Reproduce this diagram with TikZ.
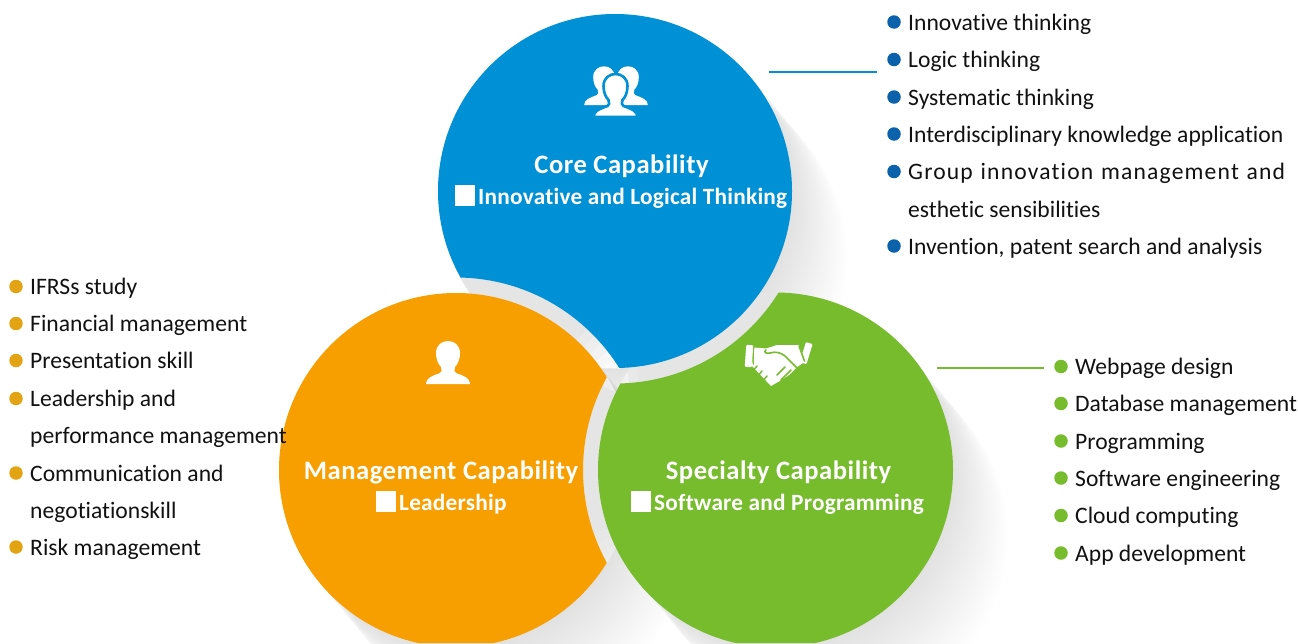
\documentclass[tikz,border=0pt]{standalone}
\usepackage{fontspec}
\usetikzlibrary{calc}
\setmainfont{Carlito}
\newfontfamily\listfont[Ligatures=NoCommon,RawFeature={-liga;-clig}]{Carlito}
\newfontfamily\widefont[Ligatures=NoCommon,RawFeature={-liga;-clig},LetterSpace=5]{Carlito}
\newfontfamily\headfont[Ligatures=NoCommon,RawFeature={-liga;-clig},LetterSpace=2]{Carlito}
\newfontfamily\subfont[Ligatures=NoCommon,RawFeature={-liga;-clig},LetterSpace=1]{Carlito}
\definecolor{coreblue}{HTML}{0090D5}
\definecolor{mgmtorange}{HTML}{F79E00}
\definecolor{specgreen}{HTML}{76BC2D}
\definecolor{dotblue}{HTML}{0B62AA}
\definecolor{dotorange}{HTML}{E3A414}
\definecolor{dotgreen}{HTML}{76BC2D}
\definecolor{itemtext}{HTML}{111111}
\tikzset{
  x=1pt,y=-1pt,
  dotmark/.style={circle,inner sep=0pt,minimum size=13.5pt},
  itemlabel/.style={anchor=base west,inner sep=0pt,text=itemtext,font=\listfont\fontsize{23.6}{24}\selectfont},
  headlabel/.style={anchor=base,inner sep=0pt,text=white,font=\headfont\bfseries\fontsize{26.6}{27}\selectfont},
  sublabel/.style={anchor=base west,inner sep=0pt,text=white,font=\subfont\bfseries\fontsize{23.3}{24}\selectfont},
  subsquare/.style={fill=white,inner sep=0pt,minimum width=20pt,minimum height=21pt,anchor=north west},
  leader/.style={line width=1.3pt},
  person/.pic={
    \path[pic actions] (-22,0) .. controls (-22,-6) and (-16,-8) .. (-8,-11)
      .. controls (-6,-12) and (-6,-14) .. (-7,-17)
      .. controls (-10,-20) and (-12,-25) .. (-12,-31)
      .. controls (-12,-39) and (-6,-43) .. (0,-43)
      .. controls (6,-43) and (12,-39) .. (12,-31)
      .. controls (12,-25) and (10,-20) .. (7,-17)
      .. controls (6,-14) and (6,-12) .. (8,-11)
      .. controls (16,-8) and (22,-6) .. (22,0) -- cycle;
  }
}
\newcommand{\listitem}[6]{%
  \node[dotmark,fill=#5] (#1dot) at (#2,#3) {};
  \node[itemlabel,#6] (#1) at (#2+14,#3+8) {#4};}
\begin{document}
\begin{tikzpicture}
\useasboundingbox (0,0) rectangle (1298,643);
\clip (0,0) rectangle (1298,643);
\coordinate (blueC) at (615,191);
\coordinate (orangeC) at (456,470);
\coordinate (greenC) at (775.5,470);
% soft shadows
\foreach \c in {blueC,orangeC,greenC}{
  \foreach \t in {3,6,...,87}{
    \fill[black,opacity=0.0036] ($(\c)+(\t*0.64,\t*0.77)$) circle[radius=177pt];
  }
}
% bands between the circles
\begin{scope}
  \clip (blueC) circle[radius=177.5pt];
  \foreach \a in {-92,-89,...,-29}{
    \pgfmathsetmacro\g{max(0,10*min(1,(-32-\a)/18))}
    \fill[black!\g!white,draw=black!\g!white,line width=.3pt,shift={(orangeC)}]
      (\a:176) -- (\a:193) -- (\a+3:193) -- (\a+3:176) -- cycle;
  }
\end{scope}
\begin{scope}
  \clip (orangeC) circle[radius=177.5pt];
  \foreach \a in {125,128,...,209}{
    \pgfmathsetmacro\g{max(0,10*min(1,min((210-\a)/6,(\a-125)/35)))}
    \fill[black!\g!white,draw=black!\g!white,line width=.3pt,shift={(greenC)}]
      (\a:176) -- (\a:193) -- (\a+3:193) -- (\a+3:176) -- cycle;
  }
\end{scope}
\begin{scope}
  \clip (greenC) circle[radius=177.5pt];
  \foreach \a in {20,23,...,89}{
    \pgfmathsetmacro\g{max(0,10*min(1,(90-\a)/8))}
    \fill[black!\g!white,draw=black!\g!white,line width=.3pt,shift={(blueC)}]
      (\a:176) -- (\a:193) -- (\a+3:193) -- (\a+3:176) -- cycle;
  }
\end{scope}
% the three discs, each cut by the ring of the next
\begin{scope}[even odd rule]
  \clip (0,0) rectangle (1298,643) (orangeC) circle[radius=192.5pt];
  \fill[coreblue] (blueC) circle[radius=177pt];
\end{scope}
\begin{scope}[even odd rule]
  \clip (0,0) rectangle (1298,643) (greenC) circle[radius=192.5pt];
  \fill[mgmtorange] (orangeC) circle[radius=177pt];
\end{scope}
\begin{scope}[even odd rule]
  \clip (0,0) rectangle (1298,643) (blueC) circle[radius=192.5pt];
  \fill[specgreen] (greenC) circle[radius=177.5pt];
\end{scope}
% icons
\pic[fill=white,scale=.9] at (604,105) {person};
\pic[fill=white,scale=.9] at (628,105) {person};
\pic[fill=white,draw=coreblue,line width=2.6pt] at (615.5,117) {person};
\fill[coreblue] (590,117.5) rectangle (642,125);
\pic[fill=white] at (448,384) {person};
% handshake
\begin{scope}[line join=round,line cap=round]
  \fill[white,rotate around={-4:(749,356)},rounded corners=1pt] (745.5,345) rectangle (752.5,367);
  \fill[white,rotate around={-17:(806,352)},rounded corners=1pt] (803,342.5) rectangle (810,363.5);
  \fill[white] (754.5,347.5) -- (766,348.5) -- (777,345) -- (799,345) -- (806,361)
     -- (797,367) -- (789,375) -- (778,382) -- (771,386) -- (752,366) -- cycle;
  \draw[specgreen,line width=1.6pt] (766,350) .. controls (763,352) and (766,354) .. (770,353)
     .. controls (776,351) and (781,353) .. (785,356) -- (797,368);
  \draw[specgreen,line width=1.6pt] (753.5,349) -- (753.5,364);
  \draw[specgreen,line width=1.6pt] (799,346) -- (804.5,361);
  \draw[specgreen,line width=1.5pt] (757,366) -- (752,372);
  \draw[specgreen,line width=1.5pt] (762,371) -- (757,377);
  \draw[specgreen,line width=1.5pt] (767,376) -- (762,382);
  \draw[specgreen,line width=1.5pt] (785,367) -- (777,375);
  \draw[specgreen,line width=1.5pt] (791,370) -- (781,380);
\end{scope}
% disc labels
\node[headlabel] (corehead) at (621.5,173) {Core Capability};
\node[subsquare] (coresq) at (455,185) {};
\node[sublabel] (coresub) at (478,204) {Innovative and Logical Thinking};
\node[headlabel] (mgmthead) at (441,479) {Management Capability};
\node[subsquare] (mgmtsq) at (376,491) {};
\node[sublabel] (mgmtsub) at (399,510) {Leadership};
\node[headlabel] (spechead) at (778.5,479) {Specialty Capability};
\node[subsquare] (specsq) at (631,491) {};
\node[sublabel] (specsub) at (654,510) {Software and Programming};
% lists
\listitem{a}{894}{22}{Innovative thinking}{dotblue}{}
\listitem{b}{894}{59.5}{Logic thinking}{dotblue}{}
\listitem{c}{894}{97}{Systematic thinking}{dotblue}{}
\listitem{d}{894}{134}{Interdisciplinary knowledge application}{dotblue}{}
\listitem{e}{894}{171.5}{\widefont\makebox[377pt][s]{Group\hfil innovation\hfil management\hfil and}}{dotblue}{}
\node[itemlabel] (e2) at (908,217) {esthetic sensibilities};
\listitem{f}{894}{246}{Invention, patent search and analysis}{dotblue}{}
\listitem{g}{16}{286.5}{IFRSs study}{dotorange}{}
\listitem{h}{16}{323.5}{Financial management}{dotorange}{}
\listitem{i}{16}{360.5}{Presentation skill}{dotorange}{}
\listitem{j}{16}{398.5}{Leadership and}{dotorange}{}
\node[itemlabel] (j2) at (30,443.5) {performance management};
\listitem{k}{16}{473}{Communication and}{dotorange}{}
\node[itemlabel] (k2) at (30,518) {negotiationskill};
\listitem{l}{16}{547}{Risk management}{dotorange}{}
\listitem{m}{1061}{366.5}{Webpage design}{dotgreen}{}
\listitem{n}{1061}{403.5}{Database management}{dotgreen}{}
\listitem{o}{1061}{441}{Programming}{dotgreen}{}
\listitem{p}{1061}{478}{Software engineering}{dotgreen}{}
\listitem{q}{1061}{515.5}{Cloud computing}{dotgreen}{}
\listitem{r}{1061}{553}{App development}{dotgreen}{}
% leaders
\coordinate (coreleadA) at (769,72);
\coordinate (coreleadB) at (877,72);
\coordinate (specleadA) at (937,368);
\coordinate (specleadB) at (1044,368);
\draw[leader,coreblue] (coreleadA) -- (coreleadB);
\draw[leader,specgreen] (specleadA) -- (specleadB);
\end{tikzpicture}
\end{document}
